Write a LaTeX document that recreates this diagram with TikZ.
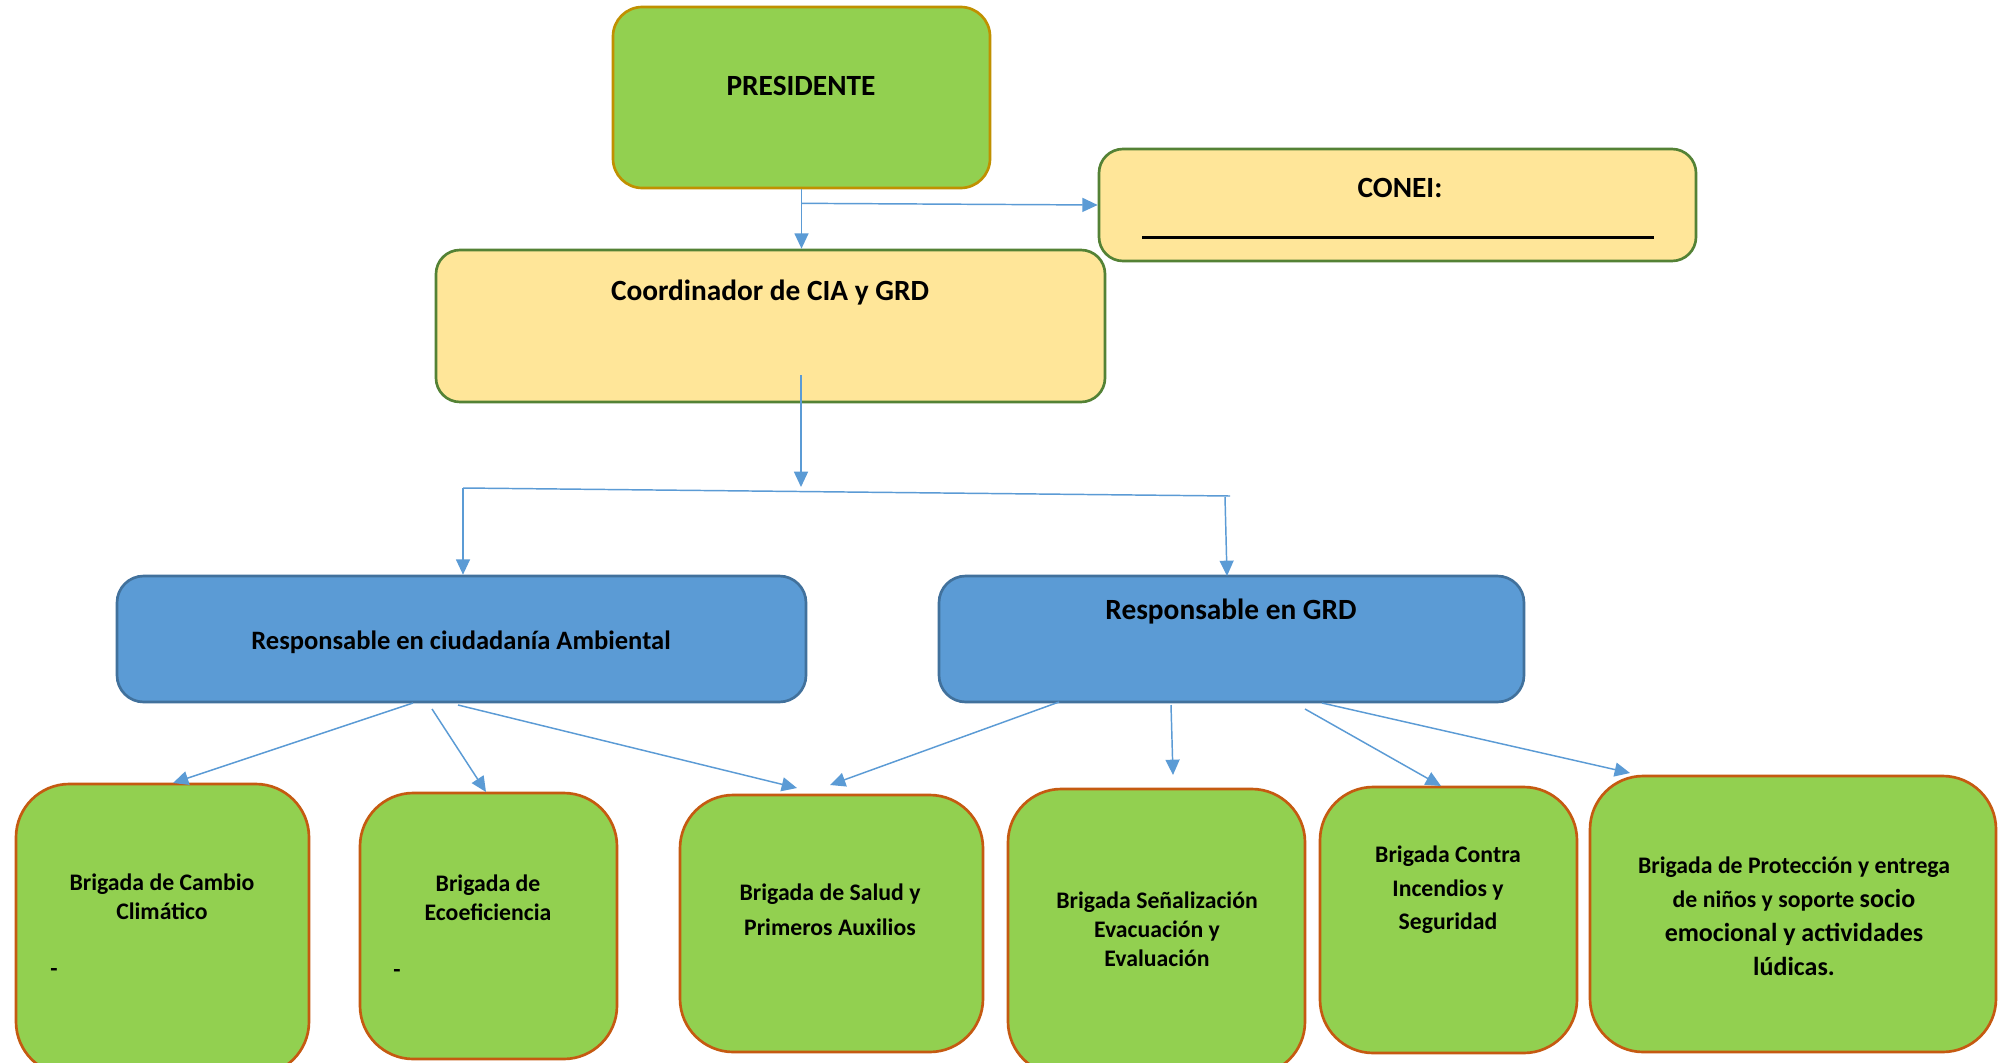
\documentclass[tikz,border=0pt]{standalone}
\usepackage{fontspec}
\setmainfont{Carlito}
\usetikzlibrary{arrows.meta,fit,calc}
\definecolor{grn}{HTML}{92D050}
\definecolor{gold}{HTML}{C09000}
\definecolor{yel}{HTML}{FFE699}
\definecolor{dkgrn}{HTML}{548235}
\definecolor{blu}{HTML}{5B9BD5}
\definecolor{bludk}{HTML}{41719C}
\definecolor{brn}{HTML}{C55A11}
\definecolor{lnblue}{HTML}{5B9BD5}
\begin{document}
\begin{tikzpicture}[x=0.75pt,y=-0.75pt,
  shp/.style={inner sep=0pt, line width=2pt},
  presbox/.style={shp, fill=grn, draw=gold, rounded corners=22pt},
  yelbox/.style={shp, fill=yel, draw=dkgrn, rounded corners=18pt},
  bluebox/.style={shp, fill=blu, draw=bludk, rounded corners=20pt},
  brig/.style={shp, fill=grn, draw=brn, rounded corners=40pt},
  conn/.style={draw=lnblue, line width=1.1pt, -{Triangle[length=11.5pt,width=10.5pt]}},
  plainln/.style={draw=lnblue, line width=1.1pt},
  ttl/.style={font=\bfseries\fontsize{22}{26}\selectfont, inner sep=0pt},
  ttlsm/.style={font=\bfseries\fontsize{19.9}{24}\selectfont, inner sep=0pt},
  brtxt/.style={font=\bfseries\fontsize{17.8}{21.75}\selectfont, align=center, inner sep=0pt}
]
\useasboundingbox (0,0) rectangle (2006,1063);
\clip (0,0) rectangle (2006,1063);
\fill[white] (0,0) rectangle (2006,1063);

% boxes
\node[presbox, fit={(613,7) (990,188)}] (pres) {};
\node[yelbox, fit={(1099,149) (1696,261)}] (conei) {};
\node[yelbox, fit={(436,250) (1105,402)}] (coord) {};
\node[bluebox, fit={(117,576) (806,702)}] (ciu) {};
\node[bluebox, fit={(939,576) (1524,702)}] (grd) {};
\node[brig, fit={(16,784) (309,1075)}] (b1) {};
\node[brig, fit={(360,793) (617,1059)}] (b2) {};
\node[brig, fit={(680,795) (983,1052)}] (b3) {};
\node[brig, fit={(1008,789) (1305,1075)}] (b4) {};
\node[brig, fit={(1320,787) (1577,1053)}] (b5) {};
\node[brig, fit={(1590,776) (1996,1052)}] (b6) {};

% texts
\node[ttl] (presT) at (801,86) {PRESIDENTE};
\node[ttl] (coneiT) at (1400,188) {CONEI:};
\draw[black, line width=2.25pt] (1142,237) -- (1654,237);
\node[ttl] (coordT) at (770,293) {Coordinador de CIA y GRD};
\node[ttlsm] (ciuT) at (461,642) {Responsable en ciudadanía Ambiental};
\node[ttl] (grdT) at (1231,612) {Responsable en GRD};
\node[brtxt] (b1T) at (162,897) {Brigada de Cambio\\Climático};
\node[brtxt] (b1D) at (54,972) {-};
\node[brtxt] (b2T) at (488,898) {Brigada de\\Ecoeficiencia};
\node[brtxt] (b2D) at (397,973) {-};
\node[brtxt, font=\bfseries\fontsize{17.8}{26}\selectfont] (b3T) at (830,910) {Brigada de Salud y\\Primeros Auxilios};
\node[brtxt] (b4T) at (1157,929) {Brigada Señalización\\Evacuación y\\Evaluación};
\node[brtxt, font=\bfseries\fontsize{17.8}{25}\selectfont] (b5T) at (1448,890) {Brigada Contra\\Incendios y\\Seguridad};
\node[brtxt, font=\bfseries\fontsize{17.8}{25.5}\selectfont] (b6T) at (1794,916) {Brigada de Protección y entrega\\de niños y soporte {\fontsize{19.5}{25.5}\selectfont socio}\\{\fontsize{19.5}{25.5}\selectfont emocional y actividades}\\{\fontsize{19.5}{25.5}\selectfont lúdicas.}};

% connectors top
\coordinate (split) at ($(pres.south)+(0,14)$);
\draw[conn] (pres.south) -- (pres.south |- coord.north);
\draw[conn] (split) -- (conei.west);
\coordinate (cStart) at (801,375);
\coordinate (hubM) at (801,487);
\coordinate (hubL) at (463,488);
\coordinate (hubR) at (1230,496);
\coordinate (hubR2) at (1225,497);
\draw[conn] (cStart) -- (hubM);
\draw[plainln] (hubL) -- (hubR);
\draw[conn] (hubL) -- (hubL |- ciu.north);
\draw[conn] (hubR2) -- (1227,576);

% connectors bottom
\coordinate (s1) at (413,703); \coordinate (t1) at (173,783);
\coordinate (s2) at (432,709); \coordinate (t2) at (486,792);
\coordinate (s3) at (458,705); \coordinate (t3) at (797,788);
\coordinate (s4) at (1059,702); \coordinate (t4) at (830,785);
\coordinate (s5) at (1171,705); \coordinate (t5) at (1173,775);
\coordinate (s6) at (1305,709); \coordinate (t6) at (1441,786);
\coordinate (s7) at (1322,703); \coordinate (t7) at (1630,773);
\foreach \i in {1,...,7} { \draw[conn] (s\i) -- (t\i); }
\end{tikzpicture}
\end{document}
